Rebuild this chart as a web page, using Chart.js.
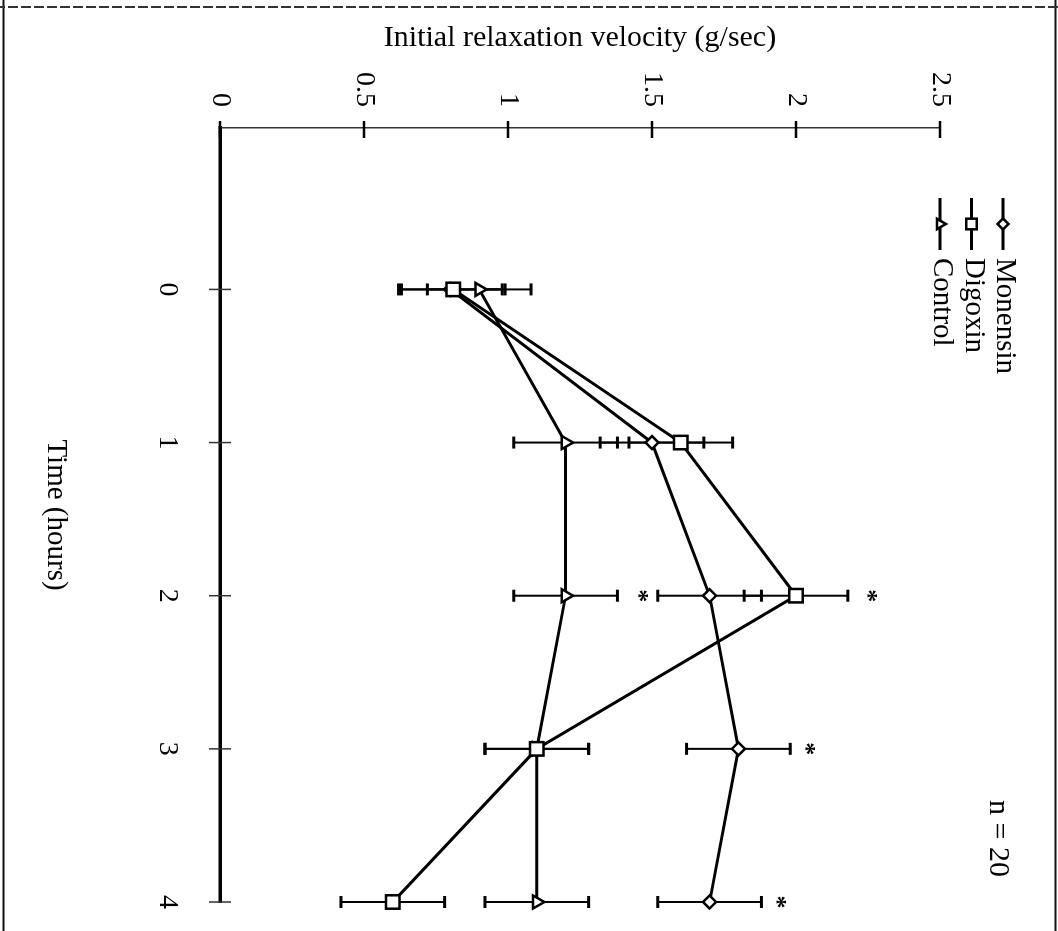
<!DOCTYPE html>
<html><head><meta charset="utf-8">
<script src="https://cdn.jsdelivr.net/npm/chart.js@4.4.1/dist/chart.umd.min.js"></script>
<style>
html,body{margin:0;padding:0;background:#fff;width:1058px;height:931px;overflow:hidden;}
#wrap{position:absolute;left:0;top:0;width:931px;height:1058px;transform-origin:0 0;transform:translate(1058px,0) rotate(90deg);}
canvas{display:block;}
</style></head><body>
<div id="wrap"><canvas id="c" width="931" height="1058"></canvas></div>
<script>
// ---- data ----
const times = [0, 1, 2, 3, 4];
const timeTicks = [0, 1, 2, 3, 4];
const timeLabels = ['0', '1', '2', '3', '4'];
const velocityTicks = [0, 0.5, 1, 1.5, 2, 2.5];
const velocityLabels = ['0', '0.5', '1', '1.5', '2', '2.5'];
const seriesNames = ['Monensin', 'Digoxin', 'Control'];
const monensin = [0.80, 1.50, 1.70, 1.80, 1.70];
const digoxin = [0.81, 1.60, 2.00, 1.10, 0.60];
const control = [0.90, 1.20, 1.20, 1.10, 1.10];
const monensinErr = [0.18, 0.18, 0.18, 0.18, 0.18];
const digoxinErr = [0.18, 0.18, 0.18, 0.18, 0.18];
const controlErr = [0.18, 0.18, 0.18, 0.18, 0.18];
// significance marks: series index, time, side of the error bar (-1 below, +1 above)
const sigSeries = [0, 1, 0, 0];
const sigTimes = [2, 2, 3, 4];
const sigSides = [-1, 1, 1, 1];
const xTitle = 'Time (hours)';
const yTitle = 'Initial relaxation velocity (g/sec)';
const noteText = 'n = 20';

// ---- styling ----
const FAM = "'Liberation Serif', 'Times New Roman', 'DejaVu Serif', serif";
const seriesValues = [monensin, digoxin, control];
const seriesErrs = [monensinErr, digoxinErr, controlErr];
const seriesStyles = ['rectRot', 'rect', 'triangle'];
const seriesRadius = [6.5, 9.5, 7.5];
const seriesOrder = [2, 0, 1];
const sigGap = [15, 24, 20, 20];

const datasets = seriesNames.map((name, s) => ({
  label: name,
  data: times.map((t, i) => ({ x: t, y: seriesValues[s][i] })),
  borderColor: '#000',
  borderWidth: 3,
  tension: 0,
  pointStyle: seriesStyles[s],
  pointRadius: seriesRadius[s],
  pointBorderWidth: 2.5,
  pointBorderColor: '#000',
  pointBackgroundColor: '#fff',
  order: seriesOrder[s],
  clip: false,
  fill: false
}));

function seg(ctx, x1, y1, x2, y2) { ctx.beginPath(); ctx.moveTo(x1, y1); ctx.lineTo(x2, y2); ctx.stroke(); }

const decorPlugin = {
  id: 'decor',
  beforeDraw(chart) {
    const ctx = chart.ctx;
    ctx.save();
    ctx.fillStyle = '#fff';
    ctx.fillRect(0, 0, chart.width, chart.height);
    // scan frame
    ctx.strokeStyle = '#111';
    ctx.lineWidth = 2;
    seg(ctx, 0, 2.5, chart.width, 2.5);
    seg(ctx, 0, 1054.5, chart.width, 1054.5);
    ctx.strokeStyle = '#333';
    ctx.setLineDash([10, 3]);
    seg(ctx, 7, 0, 7, chart.height);
    ctx.restore();
  },
  beforeDatasetsDraw(chart) {
    const { ctx, scales: { x, y } } = chart;
    ctx.save();
    ctx.strokeStyle = '#000';
    seriesValues.forEach((vals, s) => {
      vals.forEach((v, i) => {
        const px = x.getPixelForValue(times[i]);
        const lo = y.getPixelForValue(v - seriesErrs[s][i]);
        const hi = y.getPixelForValue(v + seriesErrs[s][i]);
        ctx.lineWidth = 2;
        seg(ctx, px, lo, px, hi);
        ctx.lineWidth = 3;
        seg(ctx, px - 6, lo, px + 6, lo);
        seg(ctx, px - 6, hi, px + 6, hi);
      });
    });
    ctx.restore();
  },
  afterDraw(chart) {
    const { ctx, scales: { x, y }, chartArea } = chart;
    ctx.save();
    ctx.strokeStyle = '#000';
    // value-axis tick marks crossing the axis
    ctx.lineWidth = 2.5;
    velocityTicks.forEach(v => {
      const py = y.getPixelForValue(v);
      seg(ctx, chartArea.left - 7, py, chartArea.left + 10, py);
    });
    // time-axis tick marks
    ctx.lineWidth = 1.5;
    ctx.strokeStyle = '#333';
    timeTicks.forEach(t => {
      const px = x.getPixelForValue(t);
      seg(ctx, px, chartArea.bottom - 11, px, chartArea.bottom + 11);
    });
    // significance asterisks
    ctx.fillStyle = '#000';
    ctx.font = 'bold 26px ' + FAM;
    ctx.textAlign = 'center';
    ctx.textBaseline = 'alphabetic';
    const m = ctx.measureText('*');
    const adj = (m.actualBoundingBoxAscent - m.actualBoundingBoxDescent) / 2;
    sigSeries.forEach((s, k) => {
      const i = times.indexOf(sigTimes[k]);
      const v = seriesValues[s][i] + sigSides[k] * seriesErrs[s][i];
      const py = y.getPixelForValue(v) - sigSides[k] * sigGap[k];
      ctx.fillText('*', x.getPixelForValue(sigTimes[k]), py + adj);
    });
    // legend
    ctx.font = '29px ' + FAM;
    ctx.textAlign = 'left';
    ctx.textBaseline = 'middle';
    const legendR = [5.5, 7.5, 6];
    seriesNames.forEach((name, s) => {
      const ly = 55 + s * 31.5;
      ctx.strokeStyle = '#000';
      ctx.lineWidth = 3;
      seg(ctx, 198, ly, 250, ly);
      ctx.fillStyle = '#fff';
      ctx.lineWidth = 2.5;
      Chart.helpers.drawPoint(ctx, { pointStyle: seriesStyles[s], rotation: 0, radius: legendR[s], borderWidth: 2.5 }, 224, ly);
      ctx.fillStyle = '#000';
      ctx.fillText(name, 258, ly - 2);
    });
    // note
    ctx.font = '30px ' + FAM;
    ctx.fillText(noteText, 800, 60);
    ctx.restore();
  }
};

new Chart(document.getElementById('c'), {
  type: 'line',
  data: { datasets },
  options: {
    responsive: false,
    animation: false,
    devicePixelRatio: 1,
    layout: { padding: { left: 0, top: 118, right: 29, bottom: 0 } },
    plugins: { legend: { display: false }, tooltip: { enabled: false } },
    scales: {
      x: {
        type: 'linear', position: 'bottom', min: -1.054, max: 4,
        afterBuildTicks: s => { s.ticks = timeTicks.map(v => ({ value: v })); },
        afterFit: s => { s.height = 220; s.paddingRight = 0; s.paddingLeft = 0; },
        ticks: {
          callback: (v, i) => timeLabels[i],
          font: { family: FAM, size: 28 }, color: '#000', padding: 36,
          maxRotation: 0, minRotation: 0, autoSkip: false
        },
        grid: { display: false, drawTicks: false },
        border: { display: true, color: '#000', width: 3.5 },
        title: { display: true, text: xTitle, color: '#000', font: { family: FAM, size: 29 }, padding: { top: 0, bottom: 38 } }
      },
      y: {
        type: 'linear', position: 'left', min: 0, max: 2.5,
        afterBuildTicks: s => { s.ticks = velocityTicks.map(v => ({ value: v })); },
        afterFit: s => { s.width = 128; },
        ticks: {
          callback: (v, i) => velocityLabels[i],
          font: { family: FAM, size: 28 }, color: '#000', padding: 21, autoSkip: false
        },
        grid: { display: false, drawTicks: false },
        border: { display: true, color: '#333', width: 1.5, dash: [6, 3] },
        title: { display: true, text: yTitle, color: '#000', font: { family: FAM, size: 30 }, padding: { top: 20, bottom: 0 } }
      }
    }
  },
  plugins: [decorPlugin]
});
</script>
</body></html>
